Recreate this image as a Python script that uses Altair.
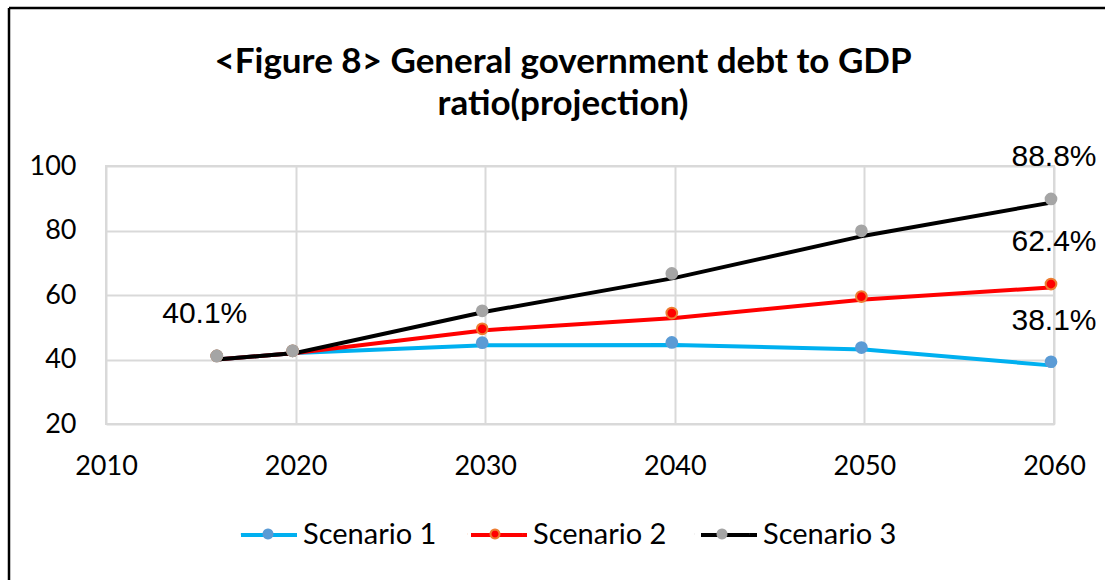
import math
import altair as alt
import pandas as pd

# ---- data ----
years = [2016, 2020, 2030, 2040, 2050, 2060]
scenarios = ["Scenario 1", "Scenario 2", "Scenario 3"]
s1_line = [40.1, 42.0, 44.4, 44.5, 43.1, 38.1]
s2_line = [40.1, 42.0, 49.1, 52.9, 58.6, 62.4]
s3_line = [40.1, 42.0, 54.8, 65.3, 78.4, 88.8]
# markers sit slightly off the lines in the original picture
s1_mark = [41.1, 42.7, 45.2, 45.3, 43.7, 39.3]
s2_mark = [41.1, 42.7, 49.5, 54.4, 59.5, 63.4]
s3_mark = [41.1, 42.7, 55.1, 66.7, 79.9, 89.8]
label_years = [2016, 2060, 2060, 2060]
label_values = [40.1, 88.8, 62.4, 38.1]
label_texts = ["40.1%", "88.8%", "62.4%", "38.1%"]
x_ticks = [2010, 2020, 2030, 2040, 2050, 2060]
y_ticks = [20, 40, 60, 80, 100]

line_colors = ["#00B0F0", "#FF0000", "#000000"]
mark_fills = ["#5B9BD5", "#FF0000", "#A5A5A5"]
mark_strokes = ["#5B9BD5", "#ED7D31", "#A5A5A5"]

lines_df = pd.DataFrame(
    [{"year": y, "value": v, "scenario": s}
     for s, vals in zip(scenarios, [s1_line, s2_line, s3_line])
     for y, v in zip(years, vals)]
)
marks_df = pd.DataFrame(
    [{"year": y, "value": v, "scenario": s}
     for s, vals in zip(scenarios, [s1_mark, s2_mark, s3_mark])
     for y, v in zip(years, vals)]
)
labels_df = pd.DataFrame({"year": label_years, "value": label_values, "text": label_texts})

W, H = 948, 258
PAD = {"left": 106, "top": 166, "right": 51, "bottom": 156}

xscale = alt.Scale(domain=[2010, 2060], nice=False, zero=False)
yscale = alt.Scale(domain=[20, 100], nice=False, zero=False)

xaxis = alt.Axis(values=x_ticks, format="d", title=None, labelFont="Lato", labelFontSize=27,
                 labelColor="black", labelPadding=29, domain=False, ticks=False,
                 grid=True, gridColor="#D9D9D9", gridWidth=2, labelFlush=False)
yaxis = alt.Axis(values=y_ticks, title=None, labelFont="Lato", labelFontSize=27,
                 labelColor="black", labelPadding=30, domain=False, ticks=False,
                 grid=True, gridColor="#D9D9D9", gridWidth=2)

# legend symbol shapes (unit square -1..1): a line, and a small dot drawn as a polygon;
# tiny end segments give the dot symbol the same bounds as the line symbol
r = 0.16
dot_pts = [(r * math.cos(2 * math.pi * k / 24), r * math.sin(2 * math.pi * k / 24)) for k in range(24)]
dot_path = "M" + "L".join(f"{x:.3f},{y:.3f}" for x, y in dot_pts) + "Z"
marker_symbol = "M-1,0L-0.995,0M0.995,0L1,0" + dot_path

# two overlaid legends with identical layout: one draws the line, one the marker
LEG_X, LEG_Y = 133, 339
common_legend = dict(
    orient="none", legendX=LEG_X, legendY=LEG_Y, direction="horizontal", title=None,
    symbolSize=3136, labelFont="Lato", labelFontSize=29, labelColor="black",
    columnPadding=26, padding=0,
)
legend_lines = alt.Legend(symbolType="M-1,0L1,0", symbolStrokeWidth=4, labelOffset=4, **common_legend)
legend_marks = alt.Legend(symbolType=marker_symbol, symbolStrokeWidth=2, labelOffset=6,
                          labelOpacity=0, **common_legend)

lines = alt.Chart(lines_df).mark_line(strokeWidth=4).encode(
    x=alt.X("year:Q", scale=xscale, axis=xaxis),
    y=alt.Y("value:Q", scale=yscale, axis=yaxis),
    color=alt.Color("scenario:N", scale=alt.Scale(range=line_colors), legend=legend_lines),
)

points = alt.Chart(marks_df).mark_point(filled=True, size=115, opacity=1, strokeWidth=2).encode(
    x=alt.X("year:Q", scale=xscale),
    y=alt.Y("value:Q", scale=yscale),
    xOffset=alt.value(-3),
    fill=alt.Fill("scenario:N", scale=alt.Scale(domain=scenarios, range=mark_fills), legend=legend_marks),
    stroke=alt.Stroke("scenario:N", scale=alt.Scale(domain=scenarios, range=mark_strokes), legend=legend_marks),
)

texts_right = alt.Chart(labels_df).transform_filter("datum.year == 2060").mark_text(
    font="Liberation Sans", fontSize=30, color="black", dy=-45
).encode(
    x=alt.X("year:Q", scale=xscale),
    y=alt.Y("value:Q", scale=yscale),
    text="text:N",
)
texts_left = alt.Chart(labels_df).transform_filter("datum.year == 2016").mark_text(
    font="Liberation Sans", fontSize=30, color="black", dy=-45, dx=-15
).encode(
    x=alt.X("year:Q", scale=xscale),
    y=alt.Y("value:Q", scale=yscale),
    text="text:N",
)

frame_df = pd.DataFrame({"k": [0]})
left_border = alt.Chart(frame_df).mark_rule(color="black", strokeWidth=2.5).encode(
    x=alt.value(-97), y=alt.value(-158), y2=alt.value(H + PAD["bottom"])
)
top_border = alt.Chart(frame_df).mark_rule(color="black", strokeWidth=2.5).encode(
    x=alt.value(-97), x2=alt.value(W + PAD["right"]), y=alt.value(-158)
)

chart = alt.layer(lines, points, texts_right, texts_left, left_border, top_border).properties(
    width=W, height=H,
    padding=PAD,
    autosize=alt.AutoSizeParams(type="none"),
    background="white",
    title=alt.TitleParams(
        text=["<Figure 8> General government debt to GDP", "ratio(projection)"],
        font="Lato", fontSize=35, fontWeight="bold", color="black",
        anchor="middle", dx=-17, offset=-115, lineHeight=42,
    ),
).configure_view(stroke="#D9D9D9", strokeWidth=2)

chart.save("out.html", embed_options={"renderer": "svg", "actions": False})
